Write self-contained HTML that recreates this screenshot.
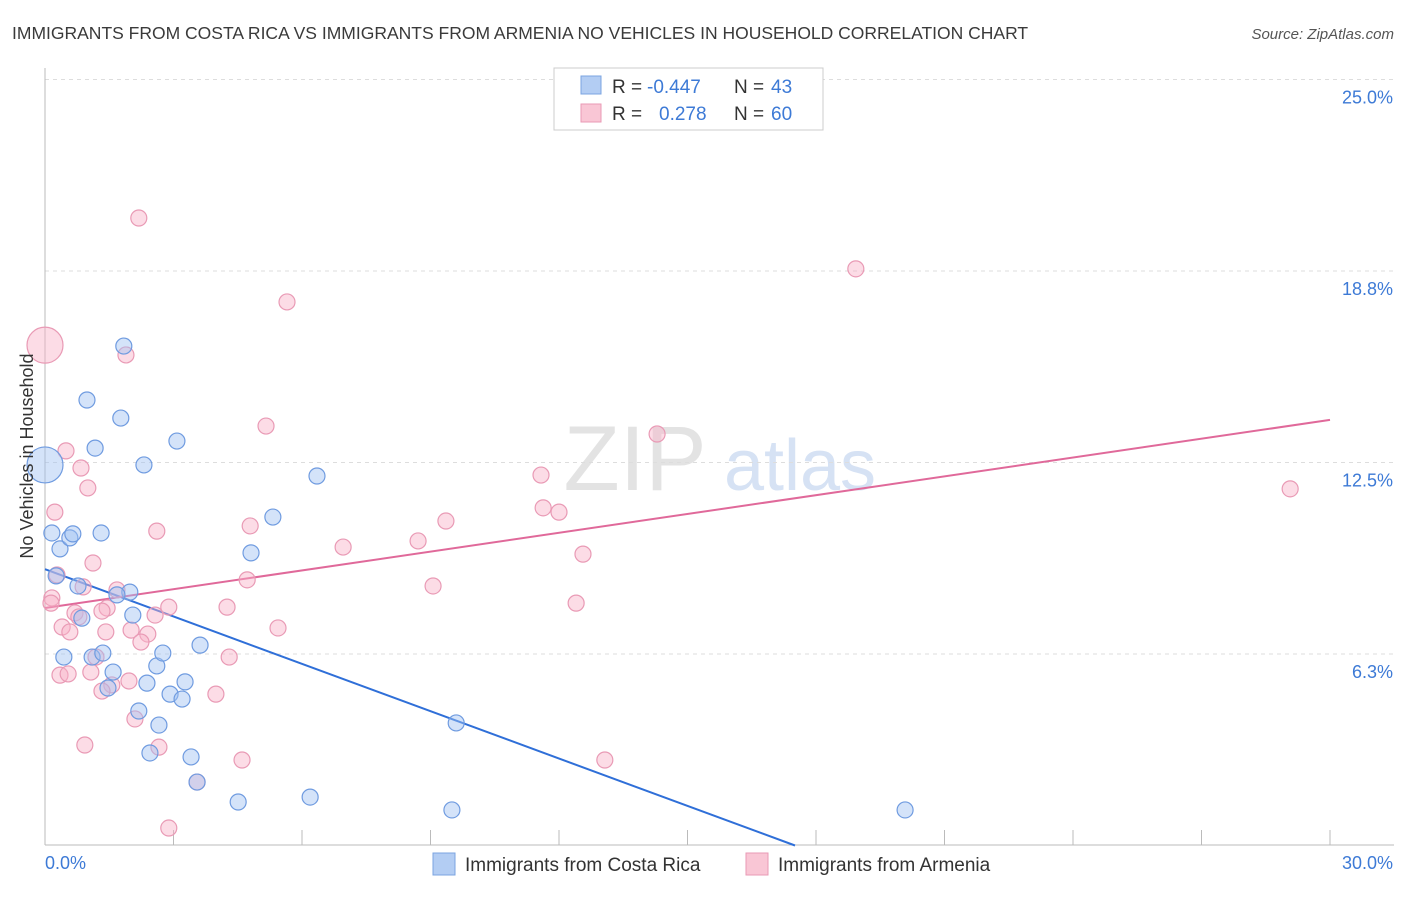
<!DOCTYPE html>
<html><head><meta charset="utf-8"><style>
body{margin:0;background:#fff;font-family:"Liberation Sans",sans-serif;}
svg text{font-family:"Liberation Sans",sans-serif;}
</style></head><body>
<svg id="chart" width="1406" height="892" xmlns="http://www.w3.org/2000/svg">
<text x="12" y="39" font-size="17.5" fill="#3a3a3a">IMMIGRANTS FROM COSTA RICA VS IMMIGRANTS FROM ARMENIA NO VEHICLES IN HOUSEHOLD CORRELATION CHART</text>
<text x="1394" y="39" font-size="15" fill="#555" text-anchor="end" font-style="italic">Source: ZipAtlas.com</text>
<g>
<text x="635" y="490" font-size="92" fill="#e3e3e3" font-family="Liberation Serif" text-anchor="middle">ZIP</text>
<text x="800" y="490" font-size="72" fill="#d6e2f4" text-anchor="middle">atlas</text>
</g>
<g id="grid"></g><g id="axes"></g><g id="lines"></g><g id="pts"></g>
<text transform="translate(33,456) rotate(-90)" font-size="18" fill="#333" text-anchor="middle">No Vehicles in Household</text>
<g>
<rect x="554" y="68" width="269" height="62" fill="#fff" stroke="#ccc"/>
<rect x="581" y="76" width="20" height="18" fill="#b3cdf3" stroke="#7ba4e0"/>
<rect x="581" y="104" width="20" height="18" fill="#f9c6d5" stroke="#e99ab5"/>
<text x="612" y="93" font-size="19" fill="#333">R =</text><text x="647" y="93" font-size="19" fill="#3d7ad6">-0.447</text>
<text x="734" y="93" font-size="19" fill="#333">N =</text><text x="771" y="93" font-size="19" fill="#3d7ad6">43</text>
<text x="612" y="120" font-size="19" fill="#333">R =</text><text x="659" y="120" font-size="19" fill="#3d7ad6">0.278</text>
<text x="734" y="120" font-size="19" fill="#333">N =</text><text x="771" y="120" font-size="19" fill="#3d7ad6">60</text>
</g>
<g>
<rect x="433" y="853" width="22" height="22" fill="#b3cdf3" stroke="#7ba4e0"/>
<text x="465" y="871" font-size="19" fill="#333">Immigrants from Costa Rica</text>
<rect x="746" y="853" width="22" height="22" fill="#f9c6d5" stroke="#e99ab5"/>
<text x="778" y="871" font-size="19" fill="#333">Immigrants from Armenia</text>
</g>
</svg>
<script>
const blueX=[0,.16,.35,.26,.58,.65,.77,.86,.98,1.17,1.31,1.77,1.84,2.31,1.98,1.68,2.05,.44,1.10,1.35,1.59,1.47,2.38,2.61,2.75,3.62,3.08,2.19,2.66,2.92,3.20,3.27,2.45,3.41,3.55,4.51,6.19,4.81,5.32,6.35,9.60,9.50,20.08];
const blueY=[12.42,10.20,9.68,8.80,10.04,10.17,8.47,7.42,14.54,12.97,10.20,13.95,16.30,12.42,8.27,8.18,7.52,6.15,6.15,6.28,5.66,5.14,5.30,5.86,6.28,6.54,13.20,4.39,3.93,4.94,4.78,5.34,3.02,2.89,2.07,1.42,1.58,9.55,10.72,12.06,4.00,1.16,1.16];
const pinkX=[0,2.19,5.65,1.89,18.93,5.16,14.29,11.58,29.07,.49,.84,1.00,.23,11.63,12.00,9.36,8.71,6.96,4.79,2.61,12.56,1.12,.28,.89,.16,.14,9.06,4.72,1.68,1.45,1.33,.70,.79,2.89,2.57,4.25,12.40,.40,.58,1.42,2.01,2.40,2.24,5.44,4.30,1.19,.35,.54,1.07,1.96,1.56,1.33,3.99,2.10,.93,2.66,4.60,13.07,3.55,2.89];
const pinkY=[16.33,20.48,17.74,16.01,18.82,13.69,13.43,12.09,11.64,12.88,12.32,11.67,10.88,11.02,10.88,10.59,9.94,9.74,10.43,10.26,9.51,9.22,8.83,8.44,8.08,7.91,8.47,8.67,8.34,7.75,7.65,7.59,7.46,7.78,7.52,7.78,7.91,7.13,6.97,6.97,7.03,6.90,6.64,7.10,6.15,6.15,5.56,5.60,5.66,5.37,5.24,5.04,4.94,4.13,3.28,3.21,2.79,2.79,2.07,0.57];
const blueBig=[0];const pinkBig=[0];
const blueTrend=[0,9.02,17.51,0];
const pinkTrend=[0,7.75,30,13.89];
const yTicks=[6.25,12.5,18.75,25];
const yTickLabels=["6.3%","12.5%","18.8%","25.0%"];
const xTicks=[0,3,6,9,12,15,18,21,24,27,30];
const NS="http://www.w3.org/2000/svg";
const X0=45,X1=1330,XMAX=30,Y0=845.5,YPX=191.5/6.25;
const sx=v=>X0+(v/XMAX)*(X1-X0), sy=v=>Y0-v*YPX;
function mk(p,t,a){const e=document.createElementNS(NS,t);for(const k in a)e.setAttribute(k,a[k]);p.appendChild(e);return e;}
const grid=document.getElementById('grid'),axes=document.getElementById('axes');
yTicks.forEach((t,i)=>{
 const l=mk(grid,'line',{x1:X0,x2:1394,y1:sy(t),y2:sy(t),stroke:'#ddd','stroke-dasharray':'4,4'});
 
 
 const tx=mk(grid,'text',{x:1393,y:sy(t)+24,'font-size':18,fill:'#3d7ad6','text-anchor':'end'});
 tx.textContent=yTickLabels[i];
 
 
});
const ya=mk(axes,'line',{x1:X0,x2:X0,y1:68,y2:845,stroke:'#bbb'});


const xa=mk(axes,'line',{x1:X0,x2:1394,y1:845,y2:845,stroke:'#bbb'});


xTicks.forEach(t=>{
 const l=mk(axes,'line',{x1:sx(t),x2:sx(t),y1:830,y2:845,stroke:'#bbb'});
 
 
});
const xl0=mk(axes,'text',{x:45,y:869,'font-size':18,fill:'#3d7ad6'});xl0.textContent='0.0%';


const xl1=mk(axes,'text',{x:1393,y:869,'font-size':18,fill:'#3d7ad6','text-anchor':'end'});xl1.textContent='30.0%';


const pts=document.getElementById('pts');
function series(xs,ys,big,fill,stroke,name){
 xs.forEach((x,i)=>{
  const c=mk(pts,'circle',{cx:sx(x),cy:sy(ys[i]),r:big.includes(i)?18:8,fill:fill,stroke:stroke,'stroke-width':1.2});
  
  
 });
}
series(pinkX,pinkY,pinkBig,'rgba(248,178,200,0.45)','#e99ab5','armenia-point');
series(blueX,blueY,blueBig,'rgba(160,192,242,0.45)','#6f9be0','costa-rica-point');
const lines=document.getElementById('lines');
const bl=mk(lines,'line',{x1:sx(blueTrend[0]),y1:sy(blueTrend[1]),x2:sx(blueTrend[2]),y2:sy(blueTrend[3]),stroke:'#2f6fd8','stroke-width':2});


const pl=mk(lines,'line',{x1:sx(pinkTrend[0]),y1:sy(pinkTrend[1]),x2:sx(pinkTrend[2]),y2:sy(pinkTrend[3]),stroke:'#e0699a','stroke-width':2});


</script>
</body></html>
